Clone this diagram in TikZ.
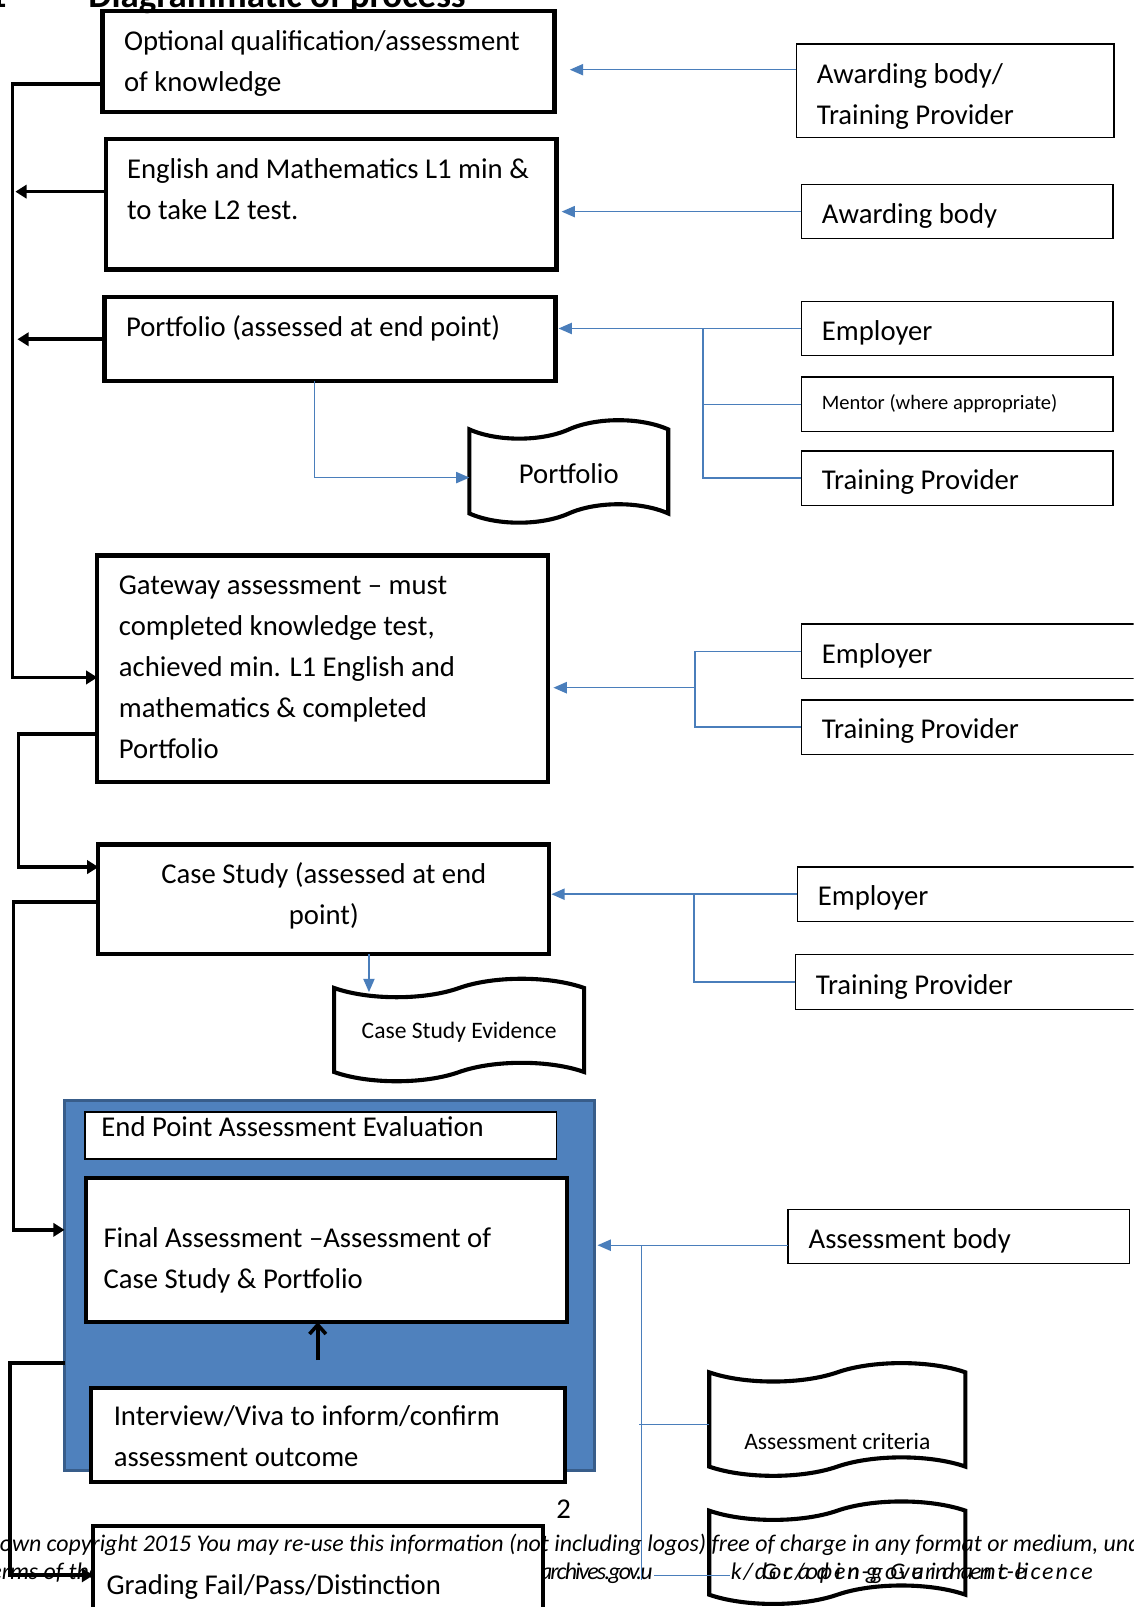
\documentclass[tikz,border=0pt]{standalone}
\usepackage{fontspec}
\setmainfont{Carlito}
\usetikzlibrary{arrows.meta}
\usetikzlibrary{shapes.symbols}

\definecolor{linkblue}{HTML}{4A7EBB}
\definecolor{epafill}{HTML}{4F81BD}
\definecolor{epaedge}{HTML}{385D8A}

\newcommand{\mainsize}{\fontsize{28}{40}\selectfont}
\newcommand{\docsize}{\fontsize{23}{30}\selectfont}
\newcommand{\mentorsize}{\fontsize{20}{30}\selectfont}
\newcommand{\footsize}{\fontsize{23.3}{27}\selectfont}
% text block inside a box: [first line height]{width}{height}{text}
\newcommand{\cell}[4][28]{\parbox[t][#3pt][t]{#2pt}{\raggedright\rule{0pt}{#1pt}#4}}

\begin{document}
\begin{tikzpicture}
  [x=1pt,y=-1pt,font=\mainsize,
   stage/.style={draw,line width=4pt,fill=white,anchor=north west,outer sep=0pt,
                 inner xsep=21pt,inner ysep=10pt},
   party/.style={draw,line width=1.3pt,fill=white,anchor=north west,outer sep=0pt,
                 inner xsep=20pt,inner ysep=10pt},
   scroll/.style={tape,draw,line width=4pt,fill=white,tape bend height=18pt,outer sep=0pt},
   flow/.style={line width=3.5pt,-{Triangle[length=11pt,width=13pt]}},
   rise/.style={line width=3.5pt,-{Straight Barb[length=9pt,width=16pt]}},
   feed/.style={linkblue,line width=1.4pt,-{Triangle[length=13pt,width=11pt]}},
   link/.style={linkblue,line width=1.4pt},
   foot/.style={font=\footsize\itshape,inner sep=0pt}]

  \useasboundingbox (0,0) rectangle (1106,1568);
  \clip (0,0) rectangle (1106,1568);
  \fill[white] (0,0) rectangle (1106,1568);

  % end point assessment block
  \node[draw=epaedge,fill=epafill,line width=3pt,anchor=north west,outer sep=0pt,
        minimum width=517pt,minimum height=361pt] (epa) at (63,1074) {};
  \node[party,inner xsep=16pt,inner ysep=4pt] (eval) at (83,1085) {\cell[19]{428}{38}{End Point Assessment Evaluation}};
  \node[stage,inner xsep=17pt] (final) at (84,1149) {\cell[58]{435}{121}{Final Assessment --Assessment of\\ Case Study \& Portfolio}};
  \node[stage,inner xsep=22pt] (viva) at (89,1354) {\cell[27]{418}{72}{Interview/Viva to inform/confirm\\ assessment outcome}};

  % main stages
  \node[stage] (opt) at (100,11) {\cell{399}{78}{Optional qualification/assessment\\ of knowledge}};
  \node[stage] (eng) at (103,136) {\cell{398}{107}{English and Mathematics L1 min \&\\ to take L2 test.}};
  \node[stage] (port) at (102,290) {\cell{398}{62}{Portfolio (assessed at end point)}};
  \node[stage] (gate) at (95,542) {\cell{398}{201}{Gateway assessment -- must\\ completed knowledge test,\\ achieved min. L1 English and\\ mathematics \& completed\\ Portfolio}};
  \node[stage] (case) at (96,824) {\cell{398}{87}{\centering Case Study (assessed at end\\ point)}};

  % who is involved
  \node[party] (abtp) at (777,43) {\cell{270}{71}{Awarding body/\\ Training Provider}};
  \node[party] (ab) at (782,180) {\cell{264}{33}{Awarding body}};
  \node[party] (emp1) at (782,294) {\cell{264}{33}{Employer}};
  \node[party] (mentor) at (782,368) {\cell[22]{264}{33}{\mentorsize Mentor (where appropriate)}};
  \node[party] (tp1) at (782,440) {\cell{264}{33}{Training Provider}};
  \node[party] (emp2) at (782,609) {\cell{300}{33}{Employer}};
  \node[party] (tp2) at (782,683) {\cell{300}{33}{Training Provider}};
  \node[party] (emp3) at (778,846) {\cell{304}{33}{Employer}};
  \node[party] (tp3) at (776,931) {\cell[29]{306}{34}{Training Provider}};
  \node[party] (asb) at (769,1180) {\cell{293}{33}{Assessment body}};

  % evidence
  \node[scroll,minimum width=194pt,minimum height=100pt] (portdoc) at (555,460)
    {\raisebox{-12pt}[0pt][0pt]{Portfolio}};
  \node[scroll,minimum width=244pt,minimum height=100pt,font=\docsize] (casedoc) at (448,1005)
    {\raisebox{-8pt}[0pt][0pt]{Case Study Evidence}};
  \node[scroll,minimum width=250pt,minimum height=110pt,font=\docsize] (critdoc) at (817,1385)
    {\raisebox{-29pt}[0pt][0pt]{Assessment criteria}};
  \node[scroll,minimum width=250pt,minimum height=100pt] (critb) at (817,1515) {};

  % page footer, second line (partly under the grading box)
  \node[foot,anchor=base east] (foot2a) at (98,1541) {terms of the};
  \node[foot,anchor=base east] (foot2b) at (637,1541) {\addfontfeatures{LetterSpace=-8}nationalarchives.gov.u};

  \node[stage,inner xsep=13pt] (grade) at (91,1489) {\cell[57]{413}{120}{Grading Fail/Pass/Distinction}};

  % flow on the left
  \draw[flow] ([yshift=-22pt]opt.west) -- ++(-88,0) |- ([yshift=-8.5pt]gate.west);
  \draw[flow] ([yshift=12.5pt]eng.west) -- ++(-88,0);
  \draw[flow] (port.west) -- ++(-85,0);
  \draw[flow] ([yshift=-63.5pt]gate.west) -- ++(-77,0) |- ([yshift=31.5pt]case.west);
  \draw[flow] ([yshift=-2.5pt]case.west) -- ++(-83,0) |- ([yshift=54.5pt]epa.west);
  \draw[flow] ([yshift=-75.5pt]epa.west) -- ++(-53,0) |- ([yshift=22pt]grade.west);
  \coordinate (vivatip) at (310,1327);
  \draw[rise] (vivatip) -- ([xshift=-8.5pt]final.south);

  % inputs on the right
  \draw[feed] ([yshift=20.5pt]abtp.west) -- ([xshift=15pt,yshift=-8pt]opt.east);
  \draw[feed] (ab.west) -- ([xshift=5pt,yshift=-7pt]eng.east);

  \coordinate (j1) at (686,320.5);
  \draw[feed] (emp1.west) -- ([xshift=3pt,yshift=10.5pt]port.east);
  \draw[link] (mentor.west) -| (j1);
  \draw[link] (tp1.west) -| (j1);
  \draw[feed] ([xshift=-15pt]port.south) |- ([yshift=-6pt]portdoc.west);

  \coordinate (j2) at (678,671);
  \draw[link] (emp2.west) -| (j2) |- (tp2.west);
  \draw[feed] (j2) -- ([xshift=5pt,yshift=-18.5pt]gate.east);

  \coordinate (j3) at (677,872.5);
  \draw[feed] (emp3.west) -- ([xshift=2pt,yshift=5pt]case.east);
  \draw[link] (tp3.west) -| (j3);
  \draw[feed] ([xshift=44pt]case.south) -- ++(0,37);

  \coordinate (j4) at (626,1215);
  \draw[feed] ([yshift=-8.5pt]asb.west) -- ([xshift=3pt,yshift=39.5pt]epa.east);
  \draw[link] (j4) -- ++(0,327);
  \draw[link] ([yshift=-5pt]critdoc.west) -- ++(-69,0);
  \draw[link] ([xshift=20pt,yshift=-22pt]critb.west) -- ++(-74,0);

  % heading cut by the page top
  \node[font=\fontsize{36}{40}\selectfont\bfseries,anchor=base west,inner sep=0pt] (title) at (86,7) {Diagrammatic of process};
  \node[font=\fontsize{36}{40}\selectfont\bfseries,anchor=base west,inner sep=0pt] (secno) at (-12,7) {1};

  % page number and footer
  \node (pageno) at (550,1473) {2};
  \node[foot,anchor=base west] (foot1) at (-20.5,1514)
    {Crown copyright 2015 You may re-use this information (not including logos) free of charge in any format or medium, under};
  \node[foot,anchor=base west] (foot2c) at (713,1541) {\addfontfeatures{LetterSpace=8}k/doc/open-government-licence};
  \node[foot,anchor=base west] (foot2d) at (743,1541) {\addfontfeatures{LetterSpace=27}Grading Guidance};
\end{tikzpicture}
\end{document}
